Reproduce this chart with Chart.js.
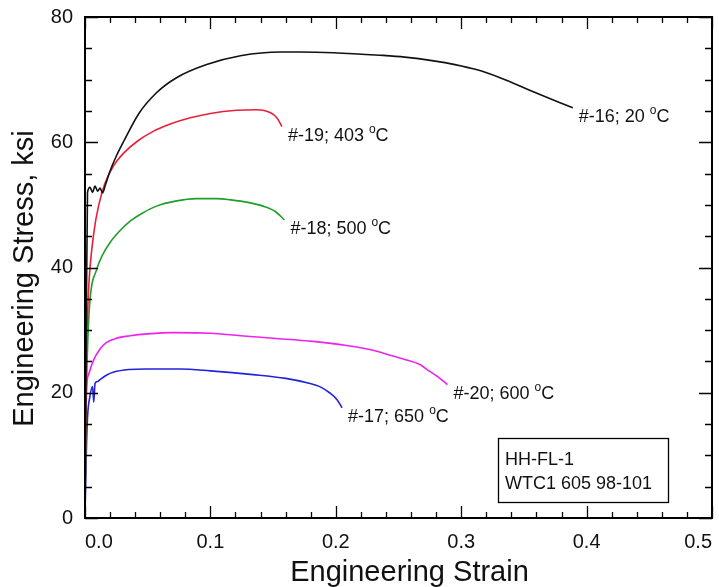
<!DOCTYPE html>
<html>
<head>
<meta charset="utf-8">
<script src="https://cdn.jsdelivr.net/npm/chart.js@4.4.1/dist/chart.umd.min.js"></script>
<style>
  html, body { margin: 0; padding: 0; background: #fff; }
  #wrap { width: 719px; height: 587px; }
</style>
</head>
<body>
<div id="wrap"><canvas id="myChart"></canvas></div>
<script>
// #-16; 20 C
const strain16 = [0, 0.001, 0.002, 0.004, 0.006, 0.008, 0.010, 0.012, 0.014, 0.016, 0.020, 0.025, 0.031, 0.043, 0.057, 0.073, 0.097, 0.124, 0.156, 0.171, 0.198, 0.235, 0.255, 0.278, 0.295, 0.312, 0.331, 0.357, 0.389];
const stress16 = [0, 30, 52, 52.8, 52.0, 53.0, 52.2, 52.7, 51.9, 53.0, 55.4, 57.8, 60.2, 64.6, 67.9, 70.3, 72.4, 73.8, 74.4, 74.4, 74.3, 73.9, 73.6, 73.0, 72.4, 71.6, 70.3, 68.1, 65.5];
// #-19; 403 C
const strain19 = [0, 0.001, 0.002, 0.003, 0.007, 0.011, 0.016, 0.023, 0.031, 0.042, 0.054, 0.068, 0.084, 0.100, 0.121, 0.137, 0.148, 0.153, 0.157];
const stress19 = [0, 25, 32, 37, 45.5, 50.0, 53.5, 56.3, 58.3, 60.2, 61.7, 62.9, 63.9, 64.6, 65.1, 65.2, 64.7, 63.9, 62.5];
// #-18; 500 C
const strain18 = [0, 0.001, 0.002, 0.004, 0.009, 0.014, 0.020, 0.028, 0.036, 0.046, 0.057, 0.072, 0.089, 0.105, 0.116, 0.130, 0.142, 0.152, 0.159];
const stress18 = [0, 18, 27, 34.9, 39.5, 42.0, 44.0, 45.9, 47.4, 48.7, 49.8, 50.6, 51.0, 51.0, 50.8, 50.4, 49.8, 48.9, 47.6];
// #-20; 600 C
const strain20 = [0, 0.0005, 0.001, 0.003, 0.007, 0.012, 0.017, 0.025, 0.036, 0.050, 0.070, 0.100, 0.124, 0.150, 0.182, 0.210, 0.227, 0.245, 0.255, 0.267, 0.275, 0.283, 0.289];
const stress20 = [0, 14, 20, 23, 25.3, 27.0, 28.0, 28.7, 29.1, 29.4, 29.6, 29.5, 29.1, 28.7, 28.2, 27.5, 26.9, 25.9, 25.3, 24.5, 23.4, 22.3, 21.3];
// #-17; 650 C
const strain17 = [0, 0.001, 0.002, 0.004, 0.006, 0.007, 0.008, 0.010, 0.012, 0.017, 0.023, 0.035, 0.049, 0.076, 0.100, 0.134, 0.160, 0.177, 0.188, 0.195, 0.201, 0.205];
const stress17 = [0, 10, 16, 19.5, 21.0, 18.5, 21.5, 21.8, 22.1, 22.8, 23.3, 23.7, 23.8, 23.8, 23.5, 22.9, 22.3, 21.6, 20.9, 20.0, 18.9, 17.6];

const specimens = ['#-16', '#-19', '#-18', '#-20', '#-17'];
const temps = ['20', '403', '500', '600', '650'];
const boxLines = ['HH-FL-1', 'WTC1 605 98-101'];
const xTitle = 'Engineering Strain';
const yTitle = 'Engineering Stress, ksi';

const xMax = 0.5, xMajor = 0.1, xMinor = 0.02;
const yMax = 80, yMajor = 20, yMinor = 5;

const FONT = "'Liberation Sans', Arial, Helvetica, sans-serif";

function pts(xs, ys) {
  return xs.map((x, i) => ({ x: x, y: ys[i] }));
}

const ctx = document.getElementById('myChart').getContext('2d');

const data = {
  datasets: [
    { label: specimens[0], data: pts(strain16, stress16), borderColor: '#111111' },
    { label: specimens[1], data: pts(strain19, stress19), borderColor: '#e8203a' },
    { label: specimens[2], data: pts(strain18, stress18), borderColor: '#1e9e2a' },
    { label: specimens[3], data: pts(strain20, stress20), borderColor: '#ee22ee' },
    { label: specimens[4], data: pts(strain17, stress17), borderColor: '#2222dd' }
  ]
};

// box frame, inward ticks on all four sides, axis titles, info box
const frameTicks = {
  id: 'frameTicks',
  afterDraw(chart) {
    const { ctx, chartArea: a, scales: { x, y } } = chart;
    ctx.save();
    ctx.strokeStyle = '#000';
    ctx.lineWidth = 1.3;
    ctx.beginPath();
    for (let i = 0; i <= Math.round(xMax / xMinor); i++) {
      const v = i * xMinor;
      const px = Math.round(x.getPixelForValue(v)) + 0.5;
      const len = (i % Math.round(xMajor / xMinor) === 0) ? 12 : 6;
      ctx.moveTo(px, a.bottom); ctx.lineTo(px, a.bottom - len);
      ctx.moveTo(px, a.top); ctx.lineTo(px, a.top + len);
    }
    for (let i = 0; i <= Math.round(yMax / yMinor); i++) {
      const v = i * yMinor;
      const py = Math.round(y.getPixelForValue(v)) + 0.5;
      const len = (i % Math.round(yMajor / yMinor) === 0) ? 13 : 7;
      ctx.moveTo(a.left, py); ctx.lineTo(a.left + len, py);
      ctx.moveTo(a.right, py); ctx.lineTo(a.right - len, py);
    }
    ctx.stroke();
    ctx.lineWidth = 2;
    ctx.strokeRect(a.left, a.top, a.right - a.left, a.bottom - a.top);

    // axis titles (slightly off-centre, as in the original plot)
    ctx.fillStyle = '#111';
    ctx.font = '29px ' + FONT;
    ctx.textAlign = 'center';
    ctx.textBaseline = 'alphabetic';
    ctx.fillText(xTitle, (a.left + a.right) / 2 + 11, chart.height - 6);
    ctx.save();
    ctx.translate(33, (a.top + a.bottom) / 2 + 11);
    ctx.rotate(-Math.PI / 2);
    ctx.fillText(yTitle, 0, 0);
    ctx.restore();

    // info box
    ctx.textAlign = 'left';
    ctx.lineWidth = 1.3;
    const bw = 170, bh = 64;
    const bx = a.right - 44 - bw, by = a.bottom - 16 - bh;
    ctx.strokeRect(bx + 0.5, by + 0.5, bw, bh);
    ctx.font = '18px ' + FONT;
    ctx.fillText(boxLines[0], bx + 7, by + 27);
    ctx.fillText(boxLines[1], bx + 7, by + 51);
    ctx.restore();
  },
  afterDatasetsDraw(chart) {
    const { ctx } = chart;
    ctx.save();
    ctx.fillStyle = '#111';
    ctx.textBaseline = 'alphabetic';
    chart.data.datasets.forEach((ds, i) => {
      const meta = chart.getDatasetMeta(i);
      const last = meta.data[meta.data.length - 1];
      let tx = last.x + 6;
      const ty = last.y + 14;
      ctx.font = '18px ' + FONT;
      const main = specimens[i] + '; ' + temps[i] + ' ';
      ctx.fillText(main, tx, ty);
      tx += ctx.measureText(main).width;
      ctx.font = '12px ' + FONT;
      ctx.fillText('o', tx, ty - 8);
      tx += ctx.measureText('o').width;
      ctx.font = '18px ' + FONT;
      ctx.fillText('C', tx, ty);
    });
    ctx.restore();
  }
};

const config = {
  type: 'line',
  data: data,
  options: {
    responsive: true,
    maintainAspectRatio: false,
    animation: false,
    layout: { padding: { top: 17, right: 7, left: 0, bottom: 0 } },
    elements: {
      line: { borderWidth: 1.6, cubicInterpolationMode: 'monotone', fill: false },
      point: { radius: 0, hoverRadius: 0 }
    },
    plugins: {
      legend: { display: false },
      tooltip: { enabled: false }
    },
    scales: {
      x: {
        type: 'linear',
        min: 0,
        max: xMax,
        afterFit: (scale) => {
          scale.height = 69;
          scale.paddingLeft = 0;
          scale.paddingRight = 0;
        },
        grid: { display: false, drawTicks: false },
        border: { display: false },
        ticks: {
          stepSize: xMajor,
          padding: 12,
          align: 'inner',
          color: '#111',
          font: { family: FONT, size: 20 },
          callback: (v) => v.toFixed(1)
        }
      },
      y: {
        type: 'linear',
        min: 0,
        max: yMax,
        afterFit: (scale) => {
          scale.width = 85;
          scale.paddingTop = 0;
          scale.paddingBottom = 0;
        },
        grid: { display: false, drawTicks: false },
        border: { display: false },
        ticks: {
          stepSize: yMajor,
          padding: 12,
          color: '#111',
          font: { family: FONT, size: 20 }
        }
      }
    }
  },
  plugins: [frameTicks]
};

const myChart = new Chart(ctx, config);
</script>
</body>
</html>
